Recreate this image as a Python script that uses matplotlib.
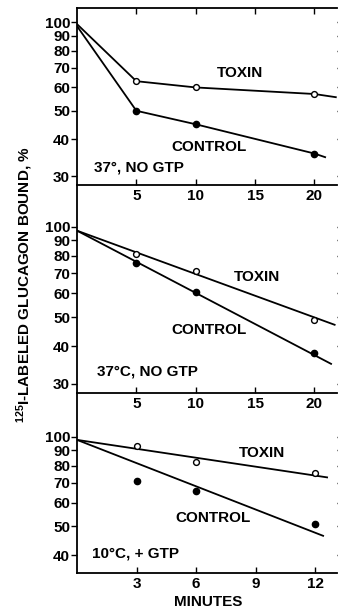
import numpy as np
import matplotlib
matplotlib.use("Agg")
import matplotlib.pyplot as plt
from matplotlib.ticker import FixedLocator, NullLocator

# ==========================================================
# DATA
# ==========================================================

# panel 1: 37 C, no GTP  (lines drawn through the points)
t1 = [5, 10, 20]
toxin1 = [63, 60, 57]
control1 = [50, 45, 35.8]
toxin1_line_x = [0, 5, 10, 20, 21.8]
toxin1_line_y = [98.4, 63, 60, 57, 55.6]
control1_line_x = [0, 5, 10, 20, 20.9]
control1_line_y = [96.9, 50, 45, 35.8, 34.8]

# panel 2: 37 C, no GTP  (straight fits)
t2 = [5, 10, 20]
toxin2 = [81, 71.5, 49]
control2 = [75.5, 60.5, 38]
toxin2_line_x = [0, 21.7]
toxin2_line_y = [97, 47.2]
control2_line_x = [0, 21.4]
control2_line_y = [97, 35]

# panel 3: 10 C, + GTP
t3 = [3, 6, 12]
toxin3 = [93, 82.5, 75.5]
control3 = [71, 65.5, 51]
toxin3_line_x = [0, 12.6]
toxin3_line_y = [97.5, 73]
control3_line_x = [0, 12.4]
control3_line_y = [97.5, 46.5]

yticks_12 = [30, 40, 50, 60, 70, 80, 90, 100]
yticks_3 = [40, 50, 60, 70, 80, 90, 100]
xticks_12 = [5, 10, 15, 20]
xticks_3 = [3, 6, 9, 12]

# ==========================================================
# STYLE
# ==========================================================

plt.rcParams["font.family"] = ["Liberation Sans", "DejaVu Sans"]
plt.rcParams["font.weight"] = "bold"
plt.rcParams["mathtext.fontset"] = "custom"
plt.rcParams["mathtext.rm"] = "Liberation Sans:bold"
plt.rcParams["mathtext.it"] = "Liberation Sans:bold"
plt.rcParams["mathtext.bf"] = "Liberation Sans:bold"

FS = 11
W, H = 338, 611

fig = plt.figure(figsize=(W / 100, H / 100), dpi=100)


def px_axes(top, bottom, left=77, right=337):
    ax = fig.add_axes([left / W, 1 - bottom / H, (right - left) / W, (bottom - top) / H])
    ax.patch.set_alpha(0)
    return ax


def style_axes(ax, xlim, ylim, xticks, yticks, top_spine=True):
    ax.set_yscale("log")
    ax.set_xlim(*xlim)
    ax.set_ylim(*ylim)
    ax.yaxis.set_major_locator(FixedLocator(yticks))
    ax.yaxis.set_minor_locator(NullLocator())
    ax.set_yticklabels([str(v) for v in yticks])
    ax.xaxis.set_major_locator(FixedLocator(xticks))
    ax.set_xticklabels([str(v) for v in xticks])
    ax.tick_params(axis="y", which="major", direction="out", length=4, width=1,
                   labelsize=FS, pad=1, right=True)
    ax.tick_params(axis="x", which="major", direction="in", length=4, width=1,
                   labelsize=FS, pad=3, top=top_spine)
    ax.spines["right"].set_visible(False)
    ax.spines["top"].set_visible(top_spine)
    for s in ["left", "bottom", "top"]:
        ax.spines[s].set_linewidth(1.3)
    for lbl in ax.get_xticklabels() + ax.get_yticklabels():
        lbl.set_fontweight("bold")


def draw_series(ax, lx, ly, px, py, filled):
    ax.plot(lx, ly, color="black", lw=1.3, zorder=2)
    if filled:
        ax.plot(px, py, "o", ms=4.5, mfc="black", mec="black", zorder=3)
    else:
        ax.plot(px, py, "o", ms=4.2, mfc="white", mec="black", mew=1.0, zorder=3)


# ==========================================================
# PANELS
# ==========================================================

ax1 = px_axes(8, 185)
style_axes(ax1, (0, 21.9), (28, 111.6), xticks_12, yticks_12)
draw_series(ax1, toxin1_line_x, toxin1_line_y, t1, toxin1, False)
draw_series(ax1, control1_line_x, control1_line_y, t1, control1, True)

ax2 = px_axes(185, 393)
style_axes(ax2, (0, 21.9), (28, 137.6), xticks_12, yticks_12, top_spine=False)
draw_series(ax2, toxin2_line_x, toxin2_line_y, t2, toxin2, False)
draw_series(ax2, control2_line_x, control2_line_y, t2, control2, True)

ax3 = px_axes(393, 573)
style_axes(ax3, (0, 13.1), (34.9, 140), xticks_3, yticks_3, top_spine=False)
draw_series(ax3, toxin3_line_x, toxin3_line_y, t3, toxin3, False)
draw_series(ax3, control3_line_x, control3_line_y, t3, control3, True)


def label_px(x, y, s, ha="center"):
    fig.text(x / W, 1 - y / H, s, ha=ha, va="center", fontsize=FS, fontweight="bold")


label_px(240, 73, "TOXIN")
label_px(209, 147, "CONTROL")
label_px(94, 167, "37°, NO GTP", ha="left")

label_px(257, 277, "TOXIN")
label_px(209, 330, "CONTROL")
label_px(97, 372, "37°C, NO GTP", ha="left")

label_px(262, 453, "TOXIN")
label_px(213, 518, "CONTROL")
label_px(92, 554, "10°C, + GTP", ha="left")

label_px(208, 602, "MINUTES")

fig.text(25 / W, 1 - 285 / H, r"$^{125}$I-LABELED GLUCAGON BOUND, %",
         rotation=90, ha="center", va="center", fontsize=FS, fontweight="bold")

fig.savefig("out.png", dpi=100)
